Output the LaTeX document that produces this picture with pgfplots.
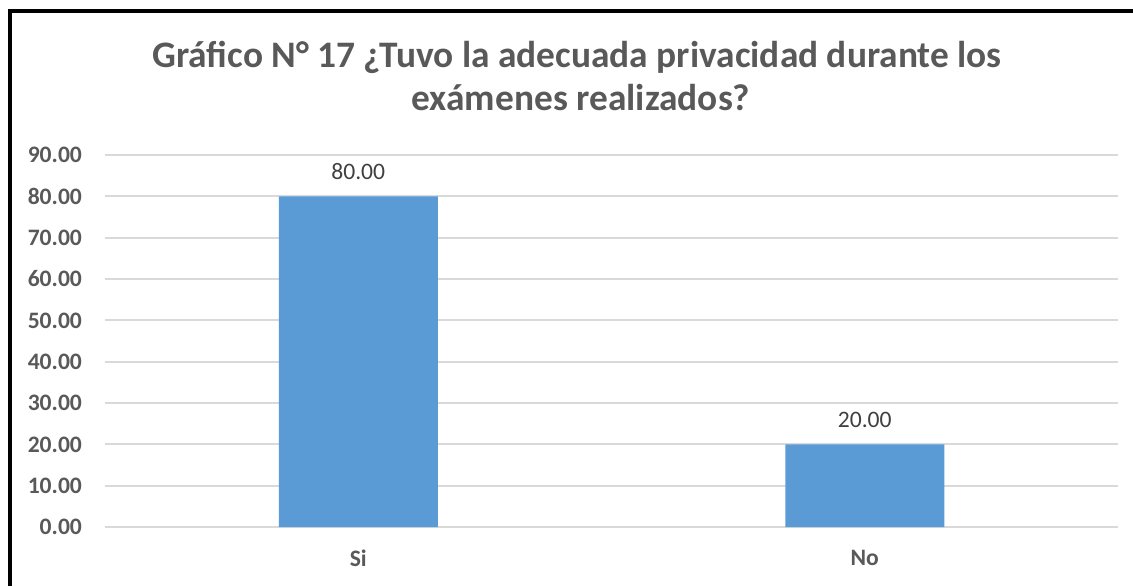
\documentclass[border=0pt]{standalone}
\usepackage{pgfplots}
\pgfplotsset{compat=1.18}
\usepackage{fontspec}
\setmainfont{Carlito}
\definecolor{tgray}{HTML}{595959}
\definecolor{bblue}{HTML}{5B9BD5}
\definecolor{ggray}{HTML}{D9D9D9}
\definecolor{lgray}{HTML}{404040}
\begin{document}
\begin{tikzpicture}
\path[use as bounding box] (0,0) rectangle (566.5pt,293pt);
\draw[black,line width=2pt] (5pt,0) -- (5pt,287.5pt) -- (566.5pt,287.5pt);
\node[anchor=base,font=\fontsize{18.7}{21}\bfseries,text=tgray] at (288.5pt,259.5pt) {Gráfico N° 17 ¿Tuvo la adecuada privacidad durante los};
\node[anchor=base,font=\fontsize{18.7}{21}\bfseries,text=tgray] at (290.5pt,238pt) {exámenes realizados?};
\begin{axis}[
  at={(52.5pt,29.5pt)}, anchor=south west,
  scale only axis, width=506.5pt, height=186pt,
  xmin=-0.5, xmax=1.5, ymin=0, ymax=90,
  ytick={0,10,...,90},
  xtick={0,1}, xticklabels={Si,No},
  ymajorgrids, grid style={ggray,line width=0.9pt},
  axis line style={draw=none},
  major tick length=0pt,
  /pgf/number format/assume math mode=true,
  yticklabel={\pgfmathprintnumber[fixed,fixed zerofill,precision=2]{\tick}},
  yticklabel style={font=\fontsize{11.8}{13}\bfseries, text=tgray, xshift=-8pt},
  xticklabel style={font=\fontsize{11.8}{13}\bfseries, text=tgray, yshift=-8pt},
  ybar, bar width=79.5pt,
  nodes near coords={\pgfmathprintnumber[fixed,fixed zerofill,precision=2]{\pgfplotspointmeta}},
  nodes near coords style={font=\fontsize{11.8}{13}\selectfont, text=lgray, /pgf/number format/assume math mode=true, yshift=5pt},
  clip=false,
]
\addplot[fill=bblue, draw=none] coordinates {(0,80) (1,20)};
\end{axis}
\end{tikzpicture}
\end{document}
